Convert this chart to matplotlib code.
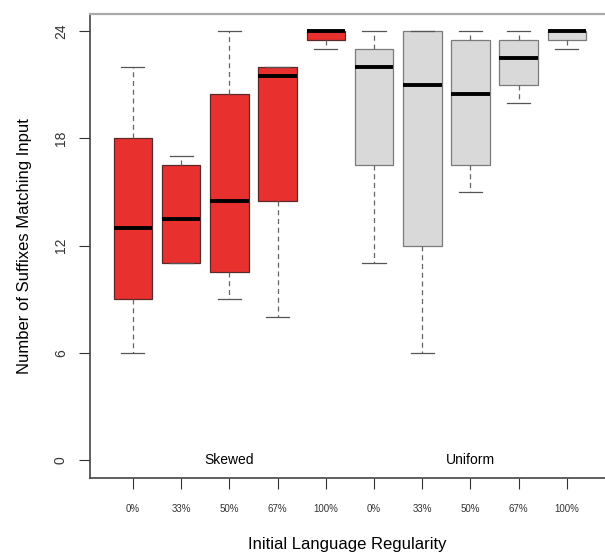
import matplotlib
matplotlib.use("Agg")
import matplotlib.pyplot as plt

# box statistics
tick_labels = ["0%", "33%", "50%", "67%", "100%", "0%", "33%", "50%", "67%", "100%"]
groups = ["Skewed", "Uniform"]
whisk_lo = [6, 11, 9, 8, 23, 11, 6, 15, 20, 23]
q1 = [9, 11, 10.5, 14.5, 23.5, 16.5, 12, 16.5, 21, 23.5]
med = [13, 13.5, 14.5, 21.5, 24, 22, 21, 20.5, 22.5, 24]
q3 = [18, 16.5, 20.5, 22, 24, 23, 24, 23.5, 23.5, 24]
whisk_hi = [22, 17, 24, 22, 24, 24, 24, 24, 24, 24]
yticks = [0, 6, 12, 18, 24]

plt.rcParams['font.family'] = ['Liberation Sans', 'DejaVu Sans']

fig = plt.figure(figsize=(6.05, 5.54), dpi=100)
ax = fig.add_axes([90 / 605, 1 - 478 / 554, 1 - 90 / 605, (478 - 14) / 554])

stats = []
for i in range(len(med)):
    stats.append(dict(whislo=whisk_lo[i], q1=q1[i], med=med[i],
                      q3=q3[i], whishi=whisk_hi[i], fliers=[]))

pos = list(range(1, len(med) + 1))
b = ax.bxp(stats, positions=pos, widths=0.8, patch_artist=True,
           showfliers=False,
           whiskerprops=dict(color="#666666", linestyle=(0, (4, 3)), linewidth=0.9),
           capprops=dict(color="#555555", linewidth=0.9),
           medianprops=dict(color="black", linewidth=2.8, solid_capstyle="butt"),
           boxprops=dict(linewidth=0.9))

# caps half as wide as the boxes
for c, p in zip(b["caps"], [p for p in pos for _ in (0, 1)]):
    c.set_xdata([p - 0.24, p + 0.24])

for i, box in enumerate(b["boxes"]):
    if i < 5:
        box.set_facecolor("#E8302F")
        box.set_edgecolor("#5a2a2a")
    else:
        box.set_facecolor("#D9D9D9")
        box.set_edgecolor("#7a7a7a")

ax.text(3, 0, groups[0], ha="center", va="center", fontsize=10)
ax.text(8, 0, groups[1], ha="center", va="center", fontsize=10)

ax.set_xlim(0.11, 10.79)
ax.set_ylim(-1.0, 24.95)
ax.set_yticks(yticks)
ax.set_yticklabels([str(t) for t in yticks], rotation=90, va="center", fontsize=10)
ax.set_xticks(pos)
ax.set_xticklabels(tick_labels, fontsize=7)
ax.tick_params(axis="x", length=8, pad=11, colors="#333333", labelcolor="#333333")
ax.tick_params(axis="y", length=8, pad=8, colors="#333333", labelcolor="#333333")

for s in ["left", "bottom"]:
    ax.spines[s].set_color("#444444")
    ax.spines[s].set_linewidth(1.2)
ax.spines["top"].set_color("#aaaaaa")
ax.spines["top"].set_linewidth(1.6)
ax.spines["right"].set_visible(False)

ax.set_xlabel("Initial Language Regularity", fontsize=12, labelpad=16)
ax.set_ylabel("Number of Suffixes Matching Input", fontsize=12, labelpad=16)

fig.savefig("out.png", dpi=100)
